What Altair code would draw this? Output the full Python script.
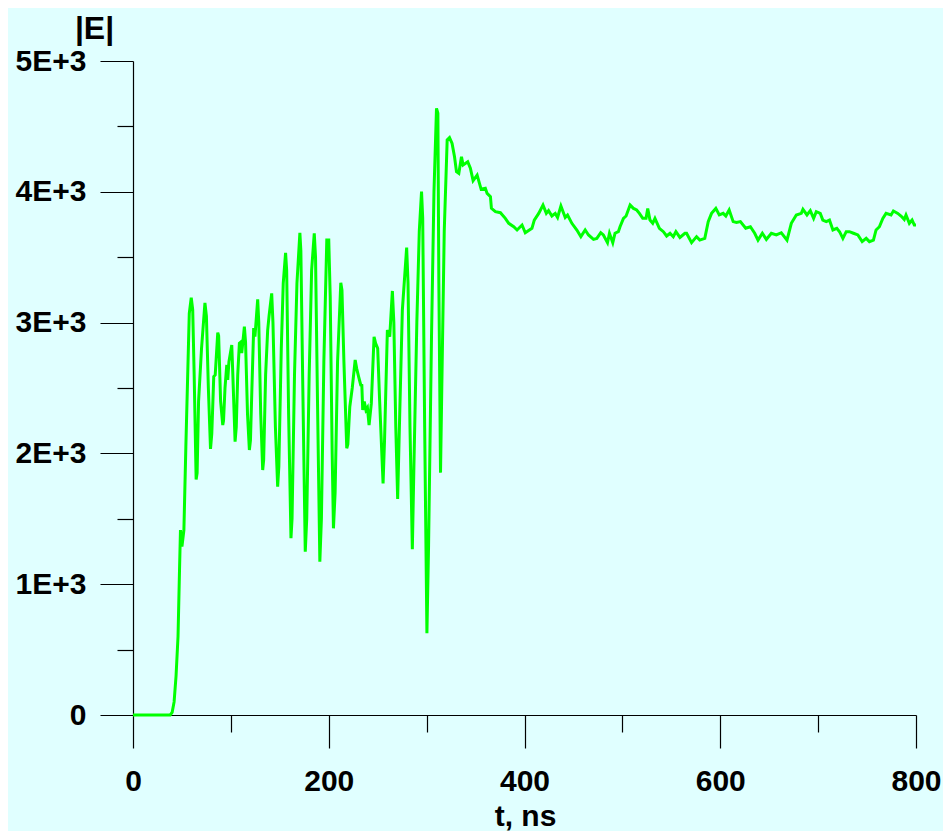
import altair as alt
import pandas as pd

# time (ns)
t_ns = [0, 10, 20, 30, 38, 40, 42, 44, 46, 47.5, 48.5, 50, 52, 54, 57.5, 59.5, 61, 62.5,
        64.5, 65.5, 67, 70, 73.5, 75, 77, 79.2, 80.5, 82.5, 84, 86.6, 87.5, 89.5, 91.7,
        92.5, 94, 95.8, 96.8, 98, 100.9, 102, 104.3, 105.5, 107, 108.7, 110, 111.1, 113.8,
        115, 117, 118.9, 120, 121.5, 123.3, 124.6, 127.4, 128.5, 130.5, 132.5, 133.5,
        135.5, 137.6, 139, 141.7, 143, 145.5, 147.8, 149, 151.5, 153.5, 155.9, 157, 159,
        161.4, 162.5, 165, 167.5, 170.5, 171.5, 173.5, 176, 177.5, 180, 182.5, 185.2,
        186.5, 188.5, 190.9, 192.5, 195, 198, 200, 201.5, 203.5, 204.8, 206.5, 209,
        212.3, 213.5, 215.5, 218.4, 219.5, 221.5, 224, 227, 228.5, 230.5, 232.7, 233.8,
        234.7, 236.3, 238, 239.5, 241.2, 243.5, 246.3, 247.9, 250, 252, 255.5, 257,
        259.9, 262.3, 265, 266.5, 268.5, 270.4, 272.5, 275.2, 279.6, 281, 283, 285.4,
        287, 290, 292.5, 294.8, 296, 298, 300.3, 302, 305, 307.5, 310.1, 311.5, 312.5,
        314.2, 315.5, 318, 321, 323.4, 326, 328.5, 330.5, 332.9, 335.6, 337.3, 342,
        344.7, 347.5, 351.6, 355.7, 360, 361.8, 365.2, 366.2, 370.3, 375.4, 380.4,
        383.9, 389, 392.4, 397.5, 400.8, 407.6, 410, 414.5, 418.9, 422.3, 424.6, 428,
        431.4, 433.8, 437.2, 441.6, 444, 448.4, 453.5, 457.6, 462, 465.4, 470.5, 473.9,
        477.9, 480.6, 484.8, 486.8, 490.2, 492.5, 495.9, 497.6, 501.1, 503.8, 507.9,
        511.3, 514.6, 517.4, 520.8, 524.2, 525.9, 528.2, 531, 533.3, 537.8, 541.9,
        545.2, 548.7, 552, 554.7, 558.8, 563.9, 565.6, 570.7, 575.8, 579.1, 584.2,
        587.7, 591.1, 595.5, 599, 603, 605.7, 609.1, 613.2, 616.6, 620.6, 626, 630.8,
        635.2, 638.6, 643, 647.1, 652.2, 657.3, 662.4, 668.2, 672.6, 677.7, 682.8,
        684.5, 688.6, 692, 695.4, 698.1, 702.2, 704.8, 708.3, 711.6, 715.1, 719.1,
        721.9, 725.3, 728.7, 732, 736.1, 740.6, 745, 749.1, 752.4, 756.5, 759.2, 762.6,
        766.1, 769.4, 774.5, 776.9, 781.4, 784.7, 788, 789.8, 793.2, 796, 798.3, 800]

# |E|
e_abs = [0, 0, 0, 0, 0, 20, 100, 300, 600, 1100, 1414, 1287, 1414, 2050, 3070, 3190, 3100, 2600,
         1800, 1850, 2400, 2800, 3150, 3050, 2500, 2034, 2150, 2587, 2600, 2923, 2900, 2400, 2217,
         2250, 2500, 2676, 2561, 2700, 2829, 2600, 2090, 2200, 2600, 2842, 2850, 2767, 2969,
         2850, 2300, 2026, 2100, 2500, 2958, 2893, 3178, 3000, 2300, 1873, 1950,
         2600, 2943, 3050, 3224, 3000, 2200, 1746, 1900, 2800, 3300, 3534, 3400, 2300,
         1351, 1500, 2600, 3300, 3687, 3550, 2500, 1249, 1500, 2600, 3400, 3683,
         3500, 2400, 1172, 1500, 2700, 3631, 3631, 3200, 2000, 1427, 1700, 2700,
         3305, 3249, 2700, 2039, 2070, 2357, 2500, 2714, 2650, 2587, 2523, 2520,
         2332, 2396, 2332, 2350, 2217, 2382, 2892, 2842, 2803, 2400, 1771, 2100,
         2943, 2892, 3242, 3000, 2200, 1651, 2300, 3096, 3573, 3300, 2200, 1267,
         1900, 3000, 3700, 4001, 3800, 2200, 625, 1300, 2900, 4000, 4638, 4600, 3300,
         1853, 2500, 3700, 4396, 4414, 4370, 4268, 4154, 4141, 4268, 4205, 4230,
         4180, 4085, 4128, 4019, 4027, 3988, 3963, 3874, 3848, 3840, 3797,
         3759, 3733, 3708, 3746, 3687, 3721, 3784, 3835, 3899, 3835, 3856, 3815,
         3835, 3804, 3891, 3804, 3823, 3759, 3708, 3657, 3708, 3670, 3636, 3644,
         3687, 3670, 3611, 3683, 3611, 3683, 3695, 3733, 3797, 3815, 3899,
         3873, 3861, 3835, 3797, 3797, 3873, 3784, 3759, 3797, 3721, 3695,
         3662, 3683, 3657, 3695, 3651, 3683, 3683, 3611, 3657, 3631, 3644,
         3772, 3835, 3873, 3823, 3835, 3815, 3861, 3772, 3765, 3772, 3721, 3733,
         3683, 3631, 3683, 3636, 3683, 3670, 3687, 3631, 3759, 3823, 3835,
         3866, 3823, 3856, 3797, 3848, 3835, 3784, 3772, 3784, 3708, 3721,
         3695, 3644, 3695, 3695, 3683, 3670, 3619, 3644, 3619, 3631, 3708, 3733,
         3797, 3835, 3823, 3853, 3835, 3815, 3789, 3823, 3759, 3784, 3746, 3746]

x_major = [0, 200, 400, 600, 800]
x_minor = [100, 300, 500, 700]
y_major = [0, 1000, 2000, 3000, 4000, 5000]
y_minor = [500, 1500, 2500, 3500, 4500]

df = pd.DataFrame({"t": t_ns, "E": e_abs})

FONT = "Liberation Sans"
WEIGHT = "bold"
BG = "#E0FFFF"

x_scale = alt.Scale(domain=[0, 800], nice=False, zero=False)
y_scale = alt.Scale(domain=[0, 5000], nice=False)

major = alt.Chart(df).mark_line(color="#00FF00", strokeWidth=3, clip=False).encode(
    x=alt.X("t:Q", scale=x_scale,
            axis=alt.Axis(orient="bottom", values=x_major, tickSize=33, tickWidth=1.2,
                          tickColor="black", domainColor="black", domainWidth=1.2,
                          labelFont=FONT, labelFontSize=30, labelFontWeight=WEIGHT,
                          labelColor="black",
                          labelBaseline="alphabetic", labelPadding=42, labelAlign="center",
                          labelFlush=False, labelOverlap=False, grid=False,
                          title="t, ns", titleFont=FONT, titleFontSize=30,
                          titleFontWeight=WEIGHT, titleColor="black",
                          titleBaseline="alphabetic", titleY=110, titleX=392,
                          titleAlign="center")),
    y=alt.Y("E:Q", scale=y_scale,
            axis=alt.Axis(orient="left", values=y_major, tickSize=33, tickWidth=1.2,
                          tickColor="black", domainColor="black", domainWidth=1.2,
                          labelFont=FONT, labelFontSize=30, labelFontWeight=WEIGHT,
                          labelColor="black",
                          labelPadding=14, labelAlign="right", labelBaseline="middle",
                          labelFlush=False, labelOverlap=False, grid=False,
                          labelExpr="datum.value == 0 ? '0' : format(datum.value/1000, 'd') + 'E+3'",
                          title="|E|", titleFont=FONT, titleFontSize=32,
                          titleFontWeight=WEIGHT, titleColor="black", titleAngle=0,
                          titleAlign="center", titleBaseline="middle",
                          titleX=-39, titleY=-33)),
)

minor = alt.Chart(df).mark_line(opacity=0).encode(
    x=alt.X("t:Q", scale=x_scale,
            axis=alt.Axis(orient="bottom", values=x_minor, tickSize=17, tickWidth=1.2,
                          tickColor="black", domain=False, labels=False, grid=False,
                          title=None)),
    y=alt.Y("E:Q", scale=y_scale,
            axis=alt.Axis(orient="left", values=y_minor, tickSize=16, tickWidth=1.2,
                          tickColor="black", domain=False, labels=False, grid=False,
                          title=None)),
)

chart = alt.layer(minor, major).resolve_axis(x="independent", y="independent").properties(
    width=783, height=654,
    autosize=alt.AutoSizeParams(type="none"),
    padding={"left": 125, "top": 53, "right": 27, "bottom": 116},
    background=BG,
).configure_view(stroke=None, fill=BG)

chart.save("out.html", embed_options={"renderer": "svg", "actions": False})
